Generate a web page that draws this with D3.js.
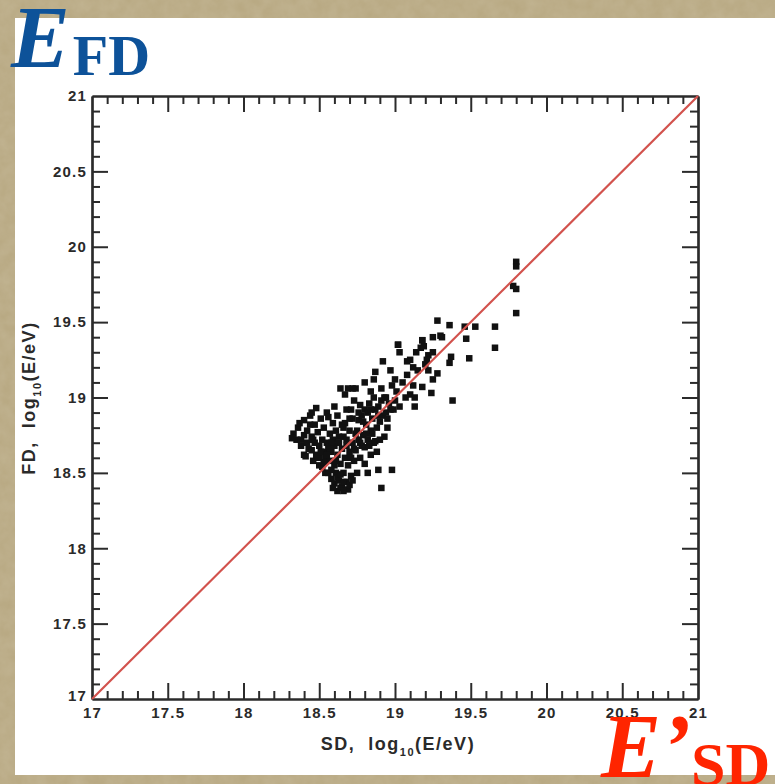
<!DOCTYPE html>
<html>
<head>
<meta charset="utf-8">
<script src="https://cdn.jsdelivr.net/npm/d3@7"></script>
<style>
  html, body { margin: 0; padding: 0; background: #b5a57e; }
  svg { display: block; }
</style>
</head>
<body>
<svg id="chart" width="775" height="784"></svg>
<script>
// ---- data ----
const xDomain = [17, 21];
const yDomain = [17, 21];
const majorTicks = [17, 17.5, 18, 18.5, 19, 19.5, 20, 20.5, 21];
const majorTickLabels = ["17", "17.5", "18", "18.5", "19", "19.5", "20", "20.5", "21"];
const minorTicks = [17.1,17.2,17.3,17.4,17.6,17.7,17.8,17.9,18.1,18.2,18.3,18.4,18.6,18.7,18.8,18.9,
  19.1,19.2,19.3,19.4,19.6,19.7,19.8,19.9,20.1,20.2,20.3,20.4,20.6,20.7,20.8,20.9];
const xTitle = "SD,  log";
const yTitle = "FD,  log";
const titleSub = "10";
const titleTail = "(E/eV)";
const diagonal = [[17, 17], [21, 21]];

// SD energy (x) and FD energy (y) of events
const sdEnergy = [
  18.33,18.35,18.36,18.37,18.38,18.38,18.40,18.40,18.41,18.42,18.42,18.43,18.44,18.45,18.45,18.46,
  18.47,18.47,18.48,18.48,18.49,18.49,18.50,18.50,18.51,18.52,18.52,18.53,18.53,18.54,18.54,18.55,
  18.55,18.56,18.56,18.56,18.57,18.57,18.58,18.58,18.59,18.59,18.60,18.60,18.60,18.60,18.61,18.61,
  18.62,18.62,18.62,18.63,18.63,18.64,18.64,18.64,18.65,18.65,18.65,18.66,18.66,18.67,18.67,18.67,
  18.68,18.68,18.68,18.69,18.69,18.69,18.70,18.70,18.71,18.71,18.72,18.72,18.73,18.73,18.74,18.74,
  18.75,18.75,18.76,18.76,18.77,18.77,18.78,18.78,18.79,18.80,18.80,18.80,18.81,18.82,18.82,18.82,
  18.83,18.84,18.84,18.85,18.86,18.86,18.87,18.87,18.88,18.88,18.89,18.89,18.90,18.90,18.91,18.91,
  18.92,18.92,18.93,18.93,18.94,18.94,18.95,18.96,18.97,18.98,18.98,18.99,19.00,19.00,19.01,19.02,
  19.03,19.03,18.32,18.40,18.45,18.44,18.58,18.62,18.64,18.66,18.59,18.66,18.70,18.72,18.72,18.87,
  18.80,18.84,18.86,19.05,19.08,19.10,19.12,19.15,19.20,19.22,19.25,19.10,19.14,19.07,19.13,19.13,
  19.18,19.25,19.24,19.28,19.36,19.38,19.08,19.12,19.17,19.18,19.21,19.22,19.02,19.19,19.18,19.30,
  19.25,19.28,19.36,19.31,19.37,19.47,19.49,19.53,19.46,19.66,19.66,19.80,19.80,19.80,19.78,19.80,
  18.50,18.53,18.57,18.61,18.63,18.68,18.71,18.74,18.77,18.79,18.83,18.85,18.89,18.46,18.51,18.55,
  18.58,18.66,18.70,18.73,18.76,18.81,18.84,18.91,18.95,18.97
];
const fdEnergy = [
  18.76,18.72,18.80,18.83,18.72,18.68,18.75,18.62,18.61,18.70,18.78,18.66,18.88,18.65,18.74,18.58,
  18.82,18.70,18.93,18.62,18.61,18.77,18.55,18.68,18.86,18.54,18.72,18.64,18.80,18.50,18.60,18.90,
  18.70,18.50,18.67,18.87,18.58,18.76,18.46,18.64,18.72,18.83,18.43,18.94,18.55,18.68,18.50,18.78,
  18.38,18.62,18.88,18.45,18.70,18.56,19.06,18.40,18.41,18.66,18.82,18.50,18.74,18.83,18.60,19.02,
  18.44,18.68,18.92,18.39,19.06,18.55,18.78,18.64,18.92,18.48,18.70,18.86,18.58,18.98,19.06,18.65,
  18.78,18.50,18.85,18.72,18.60,18.95,18.68,18.88,18.75,18.67,18.92,18.56,18.82,18.90,18.50,18.72,
  18.96,18.78,18.62,18.86,18.70,19.00,18.71,18.92,18.80,18.64,18.52,18.94,18.84,18.72,18.40,19.06,
  19.24,18.88,19.00,18.74,19.00,18.90,18.80,18.96,19.18,18.52,19.08,18.92,19.12,18.98,19.04,19.35,
  19.30,18.94,18.73,18.85,18.90,18.82,18.52,18.47,18.49,18.44,18.40,18.38,18.42,18.45,19.06,19.17,
  19.10,19.04,19.12,19.10,19.15,19.02,19.08,19.18,19.22,19.28,19.30,19.25,19.30,19.00,19.00,18.94,
  19.07,19.12,19.03,19.16,19.23,18.98,19.24,19.20,19.33,19.38,19.25,19.18,19.35,19.34,19.38,19.41,
  19.40,19.51,19.48,19.40,19.27,19.39,19.26,19.47,19.47,19.47,19.33,19.90,19.87,19.72,19.74,19.56,
  18.60,18.57,18.66,18.58,18.74,18.72,18.60,18.76,18.70,18.84,18.68,18.76,18.88,18.72,18.64,18.62,
  18.70,18.80,18.86,18.66,18.90,18.76,18.92,18.98,18.86,18.92
];

// ---- layout ----
const svg = d3.select("#chart");
const W = 775, H = 784;
const plot = { left: 92, right: 698, top: 96, bottom: 699 };

// background texture
const defs = svg.append("defs");
const f = defs.append("filter").attr("id", "paper").attr("x", 0).attr("y", 0).attr("width", 1).attr("height", 1);
f.append("feTurbulence").attr("type", "fractalNoise").attr("baseFrequency", 0.08).attr("numOctaves", 3).attr("seed", 4).attr("result", "n");
f.append("feColorMatrix").attr("in", "n").attr("type", "matrix")
  .attr("values", "0 0 0 0 0.71  0 0 0 0 0.65  0 0 0 0 0.50  0 0 0 -0.9 1.0").attr("result", "c");
svg.append("rect").attr("width", W).attr("height", H).attr("fill", "#b6a67f");
svg.append("rect").attr("width", W).attr("height", H).attr("fill", "#a89870").attr("filter", "url(#paper)").attr("opacity", 0.3);

// white panel
svg.append("rect").attr("x", 15).attr("y", 18).attr("width", W - 15).attr("height", 757).attr("fill", "#ffffff");

const x = d3.scaleLinear().domain(xDomain).range([plot.left, plot.right]);
const y = d3.scaleLinear().domain(yDomain).range([plot.bottom, plot.top]);

const axisColor = "#2b2b2b";
const major = 16, minor = 8;

function styleAxis(g) {
  g.selectAll("path.domain").attr("stroke", axisColor).attr("stroke-width", 2.2);
  g.selectAll(".tick line").attr("stroke", axisColor).attr("stroke-width", 2);
  g.selectAll(".tick text").attr("fill", "#2a2a2a")
    .style("font-family", "'Liberation Sans', Arial, sans-serif")
    .style("font-weight", "bold").style("font-size", "15px").style("letter-spacing", "1.2px");
}
const fmt = d => majorTickLabels[majorTicks.indexOf(d)];

// minor ticks (all four sides)
const minorAxes = [
  [d3.axisBottom(x), `translate(0,${plot.bottom})`],
  [d3.axisTop(x), `translate(0,${plot.top})`],
  [d3.axisLeft(y), `translate(${plot.left},0)`],
  [d3.axisRight(y), `translate(${plot.right},0)`]
];
minorAxes.forEach(([ax, tr]) => {
  const g = svg.append("g").attr("transform", tr)
    .call(ax.tickValues(minorTicks).tickSize(-minor).tickSizeOuter(0).tickFormat(""));
  styleAxis(g);
});

// major ticks
const gB = svg.append("g").attr("transform", `translate(0,${plot.bottom})`)
  .call(d3.axisBottom(x).tickValues(majorTicks).tickSize(-major).tickSizeOuter(0).tickPadding(8).tickFormat(fmt));
styleAxis(gB);
const gT = svg.append("g").attr("transform", `translate(0,${plot.top})`)
  .call(d3.axisTop(x).tickValues(majorTicks).tickSize(-major).tickSizeOuter(0).tickFormat(""));
styleAxis(gT);
const gL = svg.append("g").attr("transform", `translate(${plot.left},0)`)
  .call(d3.axisLeft(y).tickValues(majorTicks).tickSize(-major).tickSizeOuter(0).tickPadding(5).tickFormat(fmt));
styleAxis(gL);
const gR = svg.append("g").attr("transform", `translate(${plot.right},0)`)
  .call(d3.axisRight(y).tickValues(majorTicks).tickSize(-major).tickSizeOuter(0).tickFormat(""));
styleAxis(gR);
[gB, gT, gL, gR].forEach(g => g.selectAll(".tick line").filter(d => d === 17 || d === 21).attr("stroke-opacity", 0));
gL.selectAll(".tick text").filter(d => d === 17).attr("dy", "0.1em");
gL.selectAll(".tick text").filter(d => d === 21).attr("dy", "0.3em");

// data points
const pts = sdEnergy.map((v, i) => [v, fdEnergy[i]]);
const s = 6.5;
svg.append("g").selectAll("rect").data(pts).join("rect")
  .attr("x", d => x(d[0]) - s / 2).attr("y", d => y(d[1]) - s / 2)
  .attr("width", s).attr("height", s).attr("fill", "#111");

// diagonal line
svg.append("path").datum(diagonal)
  .attr("d", d3.line().x(d => x(d[0])).y(d => y(d[1])))
  .attr("stroke", "#d2524d").attr("stroke-width", 2.2).attr("fill", "none");

// axis titles
const tFont = "'Liberation Sans', Arial, sans-serif";
const xt = svg.append("text").attr("x", 398).attr("y", 750).attr("text-anchor", "middle")
  .attr("fill", "#2a2a2a").style("font-family", tFont).style("font-weight", "bold")
  .style("font-size", "18px").style("letter-spacing", "1.5px").style("white-space", "pre");
xt.append("tspan").text(xTitle);
xt.append("tspan").attr("dy", 6).style("font-size", "11px").text(titleSub);
xt.append("tspan").attr("dy", -6).text(titleTail);

const yt = svg.append("text").attr("transform", "translate(35,398) rotate(-90)").attr("text-anchor", "middle")
  .attr("fill", "#2a2a2a").style("font-family", tFont).style("font-weight", "bold")
  .style("font-size", "18px").style("letter-spacing", "1.5px").style("white-space", "pre");
yt.append("tspan").text(yTitle);
yt.append("tspan").attr("dy", 6).style("font-size", "11px").text(titleSub);
yt.append("tspan").attr("dy", -6).text(titleTail);

// big labels
const serif = "'Liberation Serif', 'Times New Roman', serif";
const efd = svg.append("text").attr("x", 11).attr("y", 67).attr("fill", "#0d5299")
  .style("font-family", serif).style("font-weight", "bold");
efd.append("tspan").style("font-style", "italic").style("font-size", "88px").text("E");
efd.append("tspan").attr("dx", 3).attr("dy", 8).style("font-size", "58px").text("FD");

const esd = svg.append("text").attr("x", 601).attr("y", 777).attr("fill", "#ff2500")
  .style("font-family", serif).style("font-weight", "bold");
esd.append("tspan").style("font-style", "italic").style("font-size", "90px").text("E’");
esd.append("tspan").attr("dy", 8).style("font-size", "62px").text("SD");
</script>
</body>
</html>
